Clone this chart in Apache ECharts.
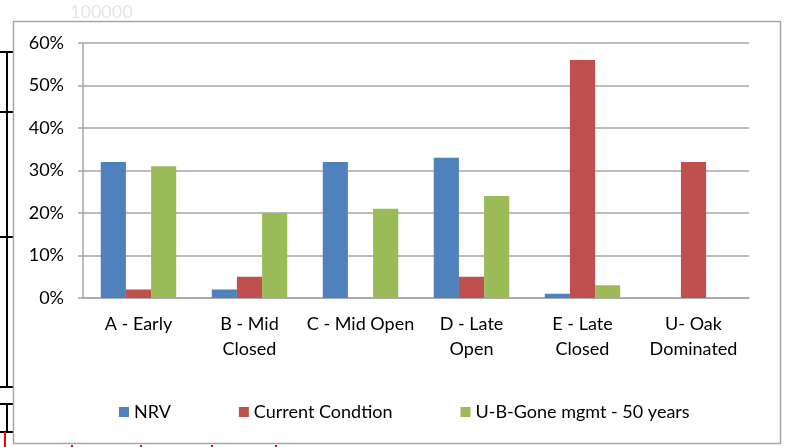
<!DOCTYPE html>
<html>
<head>
<meta charset="utf-8">
<script src="https://cdn.jsdelivr.net/npm/echarts@6/dist/echarts.min.js"></script>
<style>
  html, body { margin: 0; padding: 0; background: #fff; }
  #chart { width: 787px; height: 447px; }
</style>
</head>
<body>
<div id="chart"></div>
<script>
// stand types and the three scenarios (share of area)
let categories = [ "A - Early", "B - Mid\nClosed", "C - Mid Open", "D - Late\nOpen", "E - Late\nClosed", "U- Oak\nDominated" ];
let nrv = [ 32, 2, 32, 33, 1, 0 ];
let current = [ 2, 5, 0, 5, 56, 32 ];
let ubGone = [ 31, 20, 21, 24, 3, 0 ];
let yTicks = [ 0, 10, 20, 30, 40, 50, 60 ];

( function ()
{
  let myChart = echarts.init( document.querySelector( '#chart' ) );
  let font = "Lato, 'Open Sans', sans-serif";
  let grey = "#a6a6a6";
  let barSeries = function ( name, data, color )
  {
    return {
      name: name,
      type: 'bar',
      data: data,
      barGap: '0%',
      barCategoryGap: '32%',
      itemStyle: { color: color },
      emphasis: { disabled: true }
    };
  };
  // left-side black bracket lines and small red marks (spreadsheet leftovers)
  let deco = [
    { type: 'line', shape: { x1: 7, y1: 52, x2: 7, y2: 387 }, style: { stroke: '#000', lineWidth: 2 } },
    { type: 'line', shape: { x1: 0, y1: 52, x2: 13, y2: 52 }, style: { stroke: '#000', lineWidth: 2 } },
    { type: 'line', shape: { x1: 0, y1: 112, x2: 13, y2: 112 }, style: { stroke: '#000', lineWidth: 2 } },
    { type: 'line', shape: { x1: 0, y1: 237, x2: 13, y2: 237 }, style: { stroke: '#000', lineWidth: 2 } },
    { type: 'line', shape: { x1: 0, y1: 387, x2: 13, y2: 387 }, style: { stroke: '#000', lineWidth: 2 } },
    { type: 'line', shape: { x1: 7, y1: 404, x2: 7, y2: 432 }, style: { stroke: '#000', lineWidth: 2 } },
    { type: 'line', shape: { x1: 0, y1: 404, x2: 13, y2: 404 }, style: { stroke: '#000', lineWidth: 2 } },
    { type: 'line', shape: { x1: 0, y1: 432, x2: 13, y2: 432 }, style: { stroke: '#000', lineWidth: 2 } },
    { type: 'line', shape: { x1: 5, y1: 432, x2: 5, y2: 447 }, style: { stroke: '#f00', lineWidth: 2 } },
    { type: 'line', shape: { x1: 72, y1: 445, x2: 72, y2: 447 }, style: { stroke: '#f00', lineWidth: 2 } },
    { type: 'line', shape: { x1: 141, y1: 445, x2: 141, y2: 447 }, style: { stroke: '#f00', lineWidth: 2 } },
    { type: 'line', shape: { x1: 212, y1: 445, x2: 212, y2: 447 }, style: { stroke: '#f00', lineWidth: 2 } },
    { type: 'line', shape: { x1: 276, y1: 445, x2: 276, y2: 447 }, style: { stroke: '#f00', lineWidth: 2 } }
  ];
  let option = {
    animation: false,
    textStyle: { fontFamily: font },
    graphic: deco.concat( [
      {
        type: 'rect',
        shape: { x: 13.5, y: 21.5, width: 767, height: 422 },
        style: { fill: null, stroke: grey, lineWidth: 1.5 },
        z: 0
      },
      {
        type: 'text',
        left: 70,
        top: 3,
        style: { text: '100000', fill: '#e6e6e6', font: "18px " + font }
      }
    ] ),
    grid: {
      left: 83,
      right: 38,
      top: 43,
      bottom: 149
    },
    legend: {
      left: 114,
      top: 398,
      itemWidth: 10,
      itemHeight: 10,
      itemGap: 68,
      icon: 'rect',
      textStyle: { fontSize: 18, color: '#000', fontFamily: font },
      data: [ 'NRV', 'Current Condtion', 'U-B-Gone mgmt - 50 years' ]
    },
    xAxis: {
      type: 'category',
      data: categories,
      axisLine: { lineStyle: { color: grey, width: 1.5 } },
      axisTick: { length: 5, lineStyle: { color: grey, width: 1.5 } },
      axisLabel: {
        color: '#000',
        fontSize: 18,
        lineHeight: 25,
        margin: 14,
        interval: 0
      }
    },
    yAxis: {
      type: 'value',
      min: 0,
      max: 60,
      interval: 10,
      axisLine: { show: true, lineStyle: { color: grey, width: 1.5 } },
      axisTick: { show: true, length: 5, lineStyle: { color: grey, width: 1.5 } },
      splitLine: { lineStyle: { color: grey, width: 1.5 } },
      axisLabel: {
        color: '#000',
        fontSize: 18,
        margin: 19,
        formatter: function ( v ) { return yTicks.indexOf( v ) >= 0 ? v + '%' : ''; }
      }
    },
    series: [
      barSeries( 'NRV', nrv, '#4f81bd' ),
      barSeries( 'Current Condtion', current, '#c0504d' ),
      barSeries( 'U-B-Gone mgmt - 50 years', ubGone, '#9bbb59' )
    ]
  };
  myChart.setOption( option );
  window.addEventListener( "resize", function ()
  {
    myChart.resize();
  } );
} )();
</script>
</body>
</html>
